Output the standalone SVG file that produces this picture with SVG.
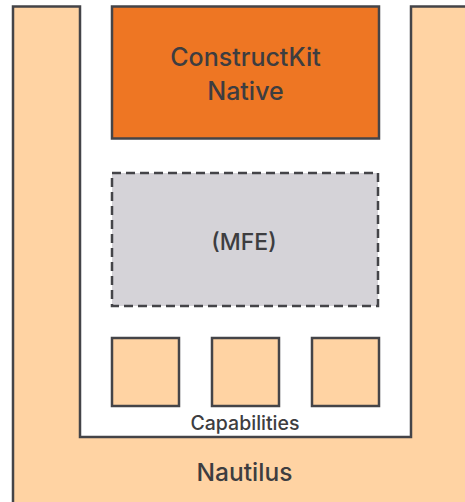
<svg xmlns="http://www.w3.org/2000/svg" width="465" height="502" viewBox="0 0 465 502">
<style>
.ln{stroke:#444448;stroke-width:2.5;stroke-linejoin:miter}
.t{font-family:Inter,"Liberation Sans",sans-serif;font-weight:500;fill:#3d3d40;text-anchor:middle}
.cap{fill:#FFD3A3}
</style>
<rect width="465" height="502" fill="#ffffff"/>
<g id="nautilus">
<path class="ln" fill="#FFD3A3" d="M13,510 L13,6.5 L80,6.5 L80,437 L411,437 L411,6.5 L475,6.5 L475,510 Z"/>
<text class="t" x="244.5" y="481" font-size="24.5">Nautilus</text>
</g>
<g id="constructkit">
<rect class="ln" x="112" y="6.5" width="267" height="132" fill="#EE7623"/>
<text class="t" x="245.5" y="66" font-size="25">ConstructKit</text>
<text class="t" x="245.5" y="100" font-size="25">Native</text>
</g>
<g id="mfe">
<rect class="ln" x="112" y="173" width="266" height="133" fill="#D5D3D8" stroke-dasharray="9,5"/>
<text class="t" x="244" y="250" font-size="23">(MFE)</text>
</g>
<g id="capabilities">
<rect class="ln cap" x="112" y="338" width="67" height="68"/>
<rect class="ln cap" x="212" y="338" width="67" height="68"/>
<rect class="ln cap" x="312" y="338" width="67" height="68"/>
<text class="t" x="245" y="430" font-size="19.5">Capabilities</text>
</g>
<g id="connectors"></g>
</svg>
